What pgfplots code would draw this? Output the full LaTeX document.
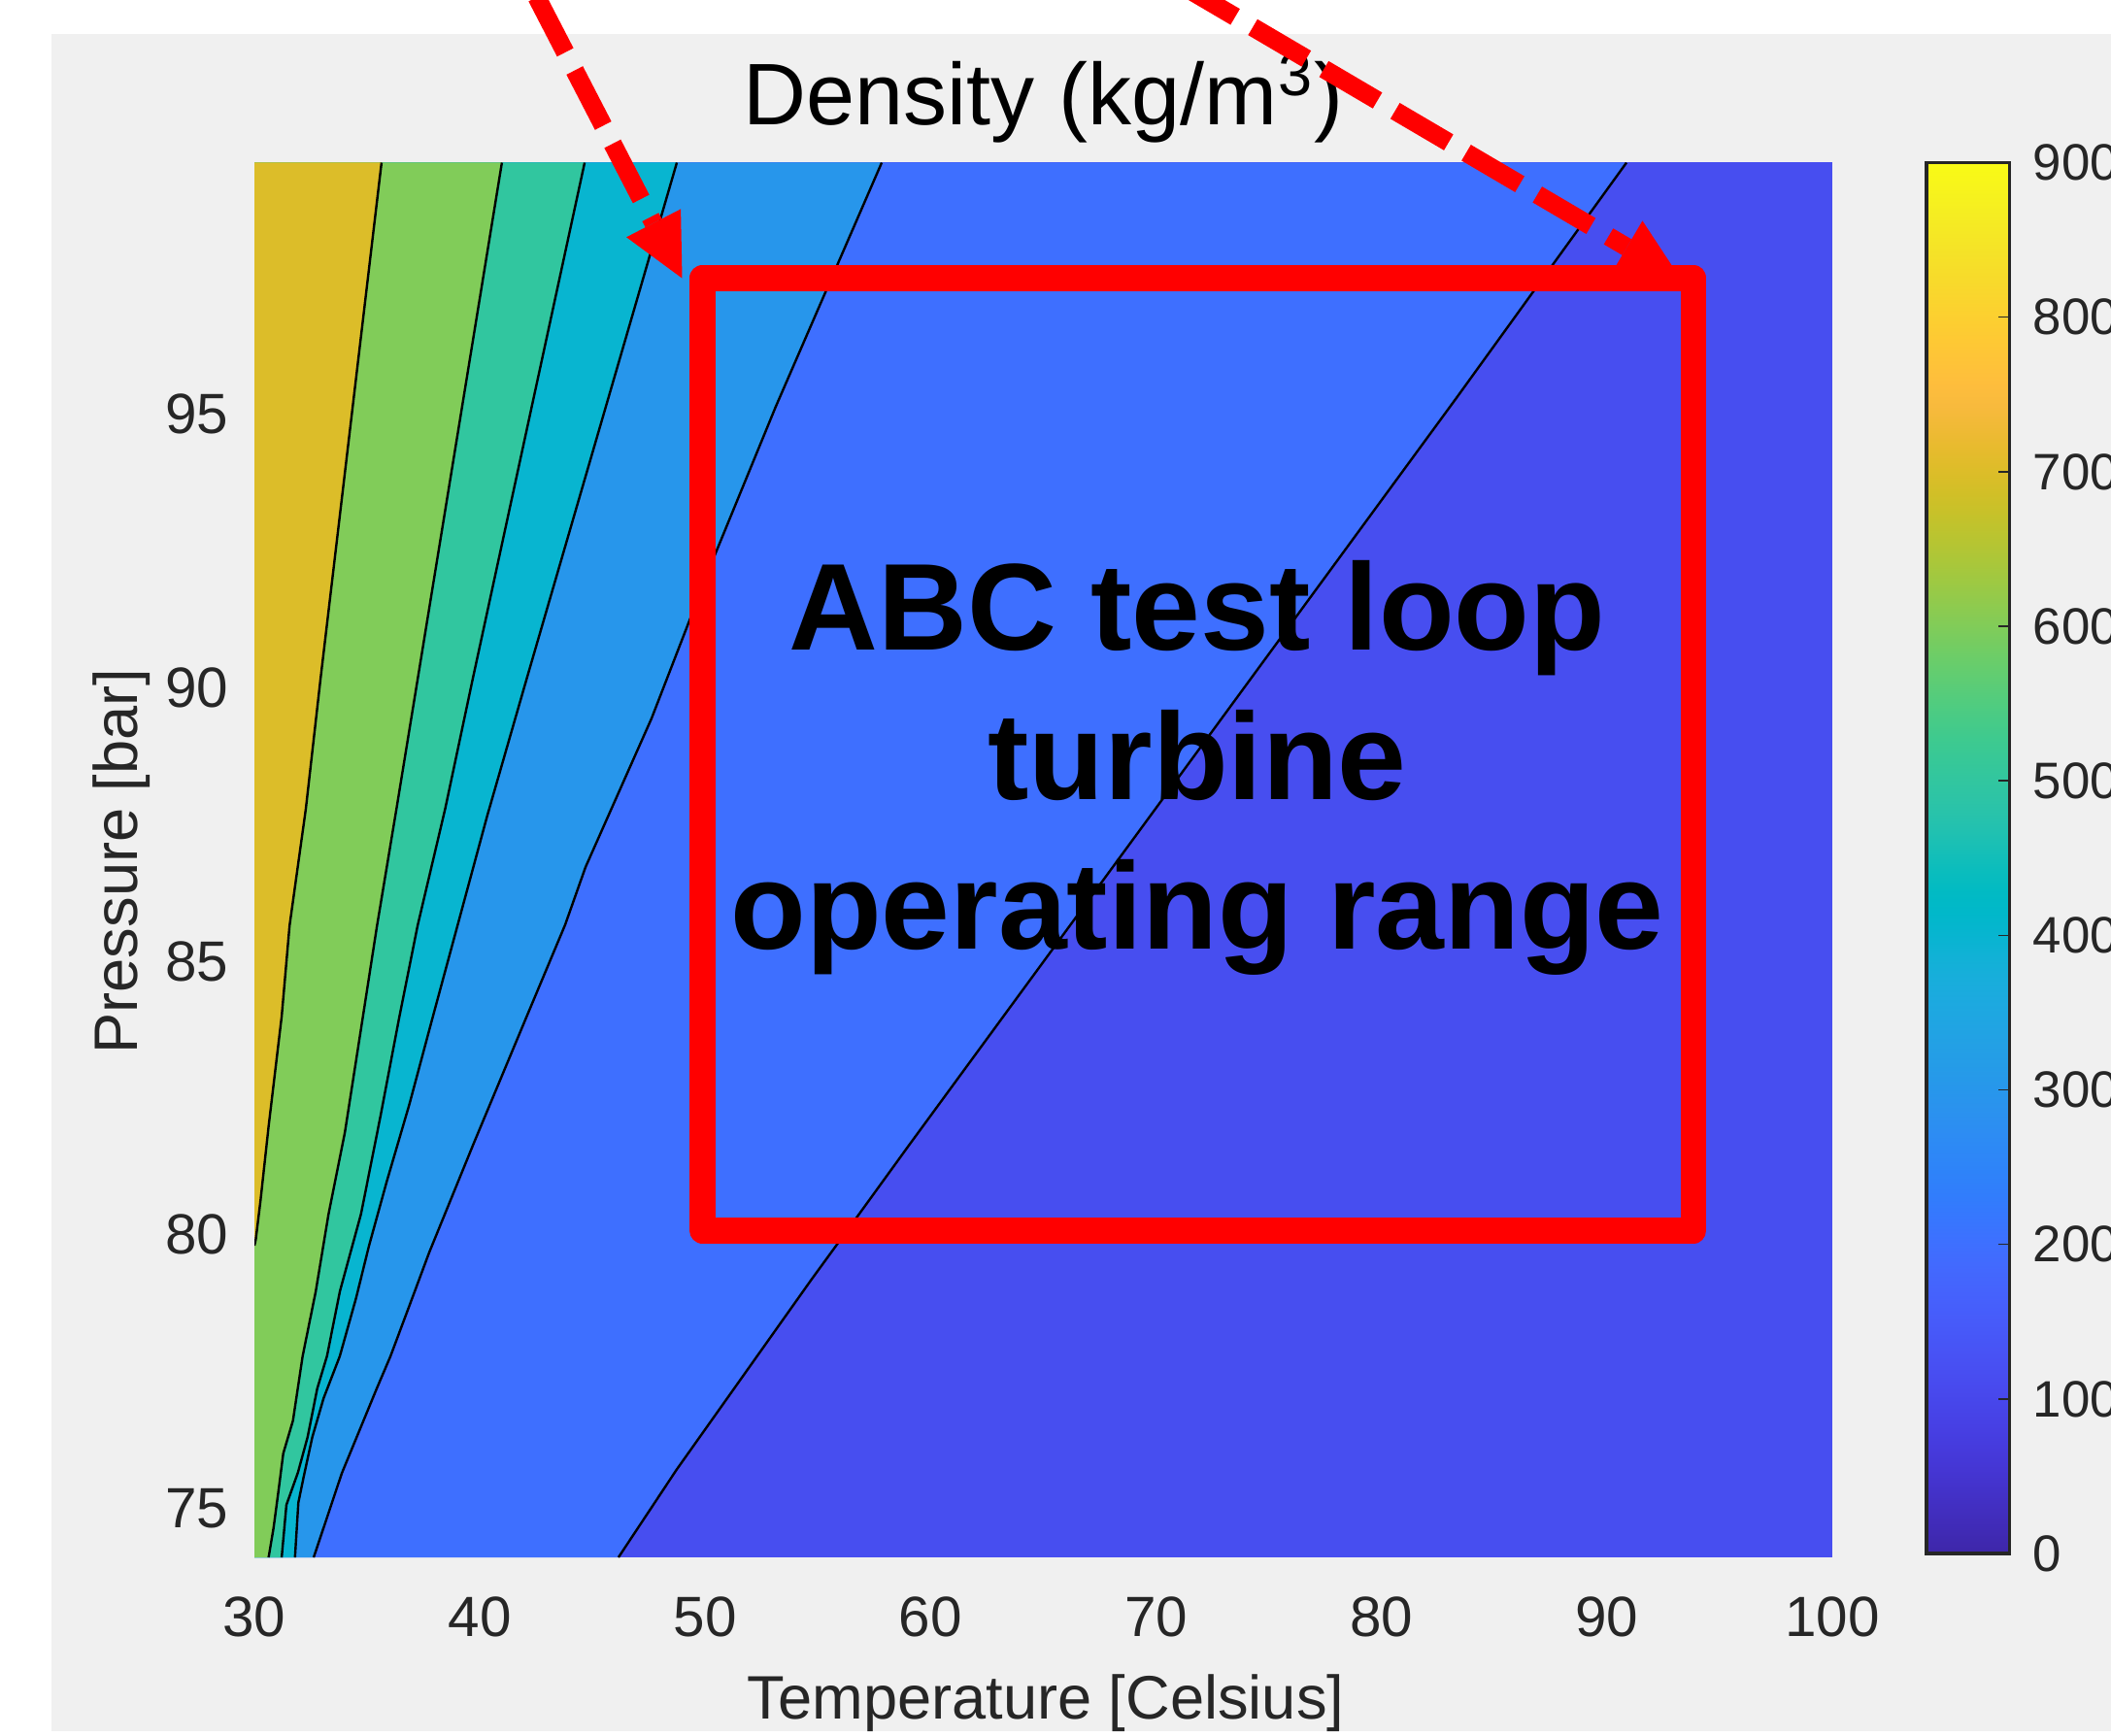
\documentclass[border=0pt]{standalone}
\usepackage{pgfplots}
\pgfplotsset{compat=1.18}
\usepackage{fontspec}
\setmainfont{Liberation Sans}
\definecolor{panelgray}{RGB}{240,240,240}
\definecolor{mgray}{RGB}{38,38,38}
\definecolor{cA}{RGB}{71,78,240}
\definecolor{cB}{RGB}{62,111,255}
\definecolor{cC}{RGB}{39,150,235}
\definecolor{cD}{RGB}{8,181,208}
\definecolor{cE}{RGB}{49,198,159}
\definecolor{cF}{RGB}{129,204,89}
\definecolor{cG}{RGB}{220,189,41}
\definecolor{annred}{RGB}{255,0,0}
% parula colour scale (64 entries) as a vertical shading for the colour bar
\pgfdeclareverticalshading{parulashade}{100bp}{
rgb(0bp)=(0.2422,0.1504,0.6603);
rgb(25bp)=(0.2422,0.1504,0.6603); rgb(25.79bp)=(0.2504,0.1650,0.7076); rgb(26.59bp)=(0.2578,0.1818,0.7511); rgb(27.38bp)=(0.2647,0.1978,0.7952);
rgb(28.17bp)=(0.2706,0.2147,0.8364); rgb(28.97bp)=(0.2751,0.2342,0.8710); rgb(29.76bp)=(0.2783,0.2559,0.8991); rgb(30.56bp)=(0.2803,0.2782,0.9221);
rgb(31.35bp)=(0.2813,0.3006,0.9414); rgb(32.14bp)=(0.2810,0.3228,0.9579); rgb(32.94bp)=(0.2795,0.3447,0.9717); rgb(33.73bp)=(0.2760,0.3667,0.9829);
rgb(34.52bp)=(0.2699,0.3892,0.9906); rgb(35.32bp)=(0.2602,0.4123,0.9952); rgb(36.11bp)=(0.2440,0.4358,0.9988); rgb(36.90bp)=(0.2206,0.4603,0.9973);
rgb(37.70bp)=(0.1963,0.4847,0.9892); rgb(38.49bp)=(0.1834,0.5074,0.9798); rgb(39.29bp)=(0.1786,0.5289,0.9682); rgb(40.08bp)=(0.1764,0.5499,0.9520);
rgb(40.87bp)=(0.1687,0.5703,0.9359); rgb(41.67bp)=(0.1540,0.5902,0.9218); rgb(42.46bp)=(0.1460,0.6091,0.9079); rgb(43.25bp)=(0.1380,0.6276,0.8973);
rgb(44.05bp)=(0.1248,0.6459,0.8883); rgb(44.84bp)=(0.1113,0.6635,0.8763); rgb(45.63bp)=(0.0952,0.6798,0.8598); rgb(46.43bp)=(0.0689,0.6948,0.8394);
rgb(47.22bp)=(0.0297,0.7082,0.8163); rgb(48.02bp)=(0.0036,0.7203,0.7917); rgb(48.81bp)=(0.0067,0.7312,0.7660); rgb(49.60bp)=(0.0433,0.7411,0.7394);
rgb(50.40bp)=(0.0964,0.7500,0.7120); rgb(51.19bp)=(0.1408,0.7584,0.6842); rgb(51.98bp)=(0.1717,0.7670,0.6554); rgb(52.78bp)=(0.1938,0.7758,0.6251);
rgb(53.57bp)=(0.2161,0.7843,0.5923); rgb(54.37bp)=(0.2470,0.7918,0.5567); rgb(55.16bp)=(0.2906,0.7973,0.5188); rgb(55.95bp)=(0.3406,0.8008,0.4789);
rgb(56.75bp)=(0.3909,0.8029,0.4354); rgb(57.54bp)=(0.4456,0.8024,0.3909); rgb(58.33bp)=(0.5044,0.7993,0.3480); rgb(59.13bp)=(0.5616,0.7942,0.3045);
rgb(59.92bp)=(0.6174,0.7876,0.2612); rgb(60.71bp)=(0.6720,0.7793,0.2227); rgb(61.51bp)=(0.7242,0.7698,0.1910); rgb(62.30bp)=(0.7738,0.7598,0.1646);
rgb(63.10bp)=(0.8203,0.7498,0.1535); rgb(63.89bp)=(0.8634,0.7406,0.1596); rgb(64.68bp)=(0.9035,0.7330,0.1774); rgb(65.48bp)=(0.9393,0.7288,0.2100);
rgb(66.27bp)=(0.9728,0.7298,0.2394); rgb(67.06bp)=(0.9956,0.7434,0.2371); rgb(67.86bp)=(0.9970,0.7659,0.2199); rgb(68.65bp)=(0.9952,0.7893,0.2028);
rgb(69.44bp)=(0.9892,0.8136,0.1885); rgb(70.24bp)=(0.9786,0.8386,0.1766); rgb(71.03bp)=(0.9676,0.8639,0.1643); rgb(71.83bp)=(0.9610,0.8890,0.1537);
rgb(72.62bp)=(0.9597,0.9135,0.1423); rgb(73.41bp)=(0.9628,0.9373,0.1265); rgb(74.21bp)=(0.9691,0.9606,0.1064); rgb(75bp)=(0.9769,0.9839,0.0805);
rgb(100bp)=(0.9769,0.9839,0.0805)}
\begin{document}
\begin{tikzpicture}
\useasboundingbox (0,0) rectangle (543.5bp,-447bp);
\clip (0,0) rectangle (543.5bp,-447bp);
\fill[white] (0,0) rectangle (543.5bp,-447bp);
\fill[panelgray] (13.25bp,-8.75bp) rectangle (550bp,-445.75bp);
\begin{axis}[
  at={(65.5bp,-401bp)}, anchor=south west, scale only axis,
  width=406.25bp, height=359.125bp,
  xmin=30, xmax=100, ymin=74.1, ymax=99.6,
  xtick={30,40,...,100}, ytick={75,80,...,95},
  axis line style={draw=none}, major tick length=0pt, tick style={draw=none},
  tick label style={font=\fontsize{14.6bp}{17bp}\selectfont, text=mgray},
  /pgf/number format/assume math mode=true,
  xticklabel style={anchor=base, inner sep=0pt, yshift=-20.25bp},
  yticklabel style={anchor=east, inner sep=0pt, xshift=-6.5bp},
]
% filled bands (level 100-200 ... 700-800)
\addplot[fill=cA, draw=none] coordinates {(30,74.1) (100,74.1) (100,99.6) (30,99.6)};
\addplot[fill=cB, draw=none] coordinates {(90.87,99.6) (83.33,95.30) (59.03,81.63) (56.71,80.31) (54.73,79.19) (48.74,75.71) (46.15,74.1) (30,74.1) (30,99.6)};
\addplot[fill=cC, draw=none] coordinates {(57.83,99.6) (53.13,95.14) (50.42,92.42) (47.62,89.44) (44.69,86.72) (43.78,85.66) (42.06,83.97) (39.74,81.68) (37.75,79.67) (37.11,78.96) (36.03,77.77) (35.43,77.19) (33.88,75.64) (32.63,74.1) (30,74.1) (30,99.6)};
\addplot[fill=cD, draw=none] coordinates {(48.74,99.6) (42.07,90.15) (40.33,87.66) (37.88,83.93) (36.88,82.39) (35.87,80.97) (35.08,79.79) (34.51,78.84) (33.79,77.78) (33.07,77.01) (32.57,76.30) (32.20,75.60) (31.95,75.10) (31.80,74.1) (30,74.1) (30,99.6)};
\addplot[fill=cE, draw=none] coordinates {(44.65,99.6) (39.68,90.15) (38.46,87.78) (37.24,85.65) (36.42,83.96) (35.59,82.16) (34.73,80.38) (33.79,78.96) (33.22,77.78) (32.79,77.19) (32.36,76.30) (31.93,75.65) (31.42,75.06) (31.21,74.1) (30,74.1) (30,99.6)};
\addplot[fill=cF, draw=none] coordinates {(40.98,99.6) (37.24,90.15) (36.30,87.78) (35.44,85.65) (34.80,83.95) (34.01,81.86) (33.29,80.38) (32.72,78.96) (32.14,77.78) (31.71,76.60) (31.28,76.00) (31.06,75.29) (30.85,74.64) (30.63,74.1) (30,74.1) (30,99.6)};
\addplot[fill=cG, draw=none] coordinates {(35.64,99.6) (32.93,90.15) (32.28,87.78) (31.56,85.65) (31.21,83.99) (30.63,81.98) (30.27,80.62) (30.06,79.91) (30,79.80) (30,99.6)};
% contour lines
\addplot[black, line width=0.6bp] coordinates {(90.87,99.6) (83.33,95.30) (59.03,81.63) (56.71,80.31) (54.73,79.19) (48.74,75.71) (46.15,74.1)};
\addplot[black, line width=0.6bp] coordinates {(57.83,99.6) (53.13,95.14) (50.42,92.42) (47.62,89.44) (44.69,86.72) (43.78,85.66) (42.06,83.97) (39.74,81.68) (37.75,79.67) (37.11,78.96) (36.03,77.77) (35.43,77.19) (33.88,75.64) (32.63,74.1)};
\addplot[black, line width=0.6bp] coordinates {(48.74,99.6) (42.07,90.15) (40.33,87.66) (37.88,83.93) (36.88,82.39) (35.87,80.97) (35.08,79.79) (34.51,78.84) (33.79,77.78) (33.07,77.01) (32.57,76.30) (32.20,75.60) (31.95,75.10) (31.80,74.1)};
\addplot[black, line width=0.6bp] coordinates {(44.65,99.6) (39.68,90.15) (38.46,87.78) (37.24,85.65) (36.42,83.96) (35.59,82.16) (34.73,80.38) (33.79,78.96) (33.22,77.78) (32.79,77.19) (32.36,76.30) (31.93,75.65) (31.42,75.06) (31.21,74.1)};
\addplot[black, line width=0.6bp] coordinates {(40.98,99.6) (37.24,90.15) (36.30,87.78) (35.44,85.65) (34.80,83.95) (34.01,81.86) (33.29,80.38) (32.72,78.96) (32.14,77.78) (31.71,76.60) (31.28,76.00) (31.06,75.29) (30.85,74.64) (30.63,74.1)};
\addplot[black, line width=0.6bp] coordinates {(35.64,99.6) (32.93,90.15) (32.28,87.78) (31.56,85.65) (31.21,83.99) (30.63,81.98) (30.27,80.62) (30.06,79.91) (30,79.80)};
\end{axis}
% colour bar (0 to 900 kg/m^3)
\begin{axis}[
  at={(496.05bp,-400bp)}, anchor=south west, scale only axis,
  width=21.325bp, height=358.125bp,
  xmin=0, xmax=1, ymin=0, ymax=900, axis on top,
  xtick=\empty, ytick={0,100,...,900}, ytick pos=right, yticklabel pos=right,
  tick align=inside, major tick length=3bp,
  tick style={draw=mgray, line width=0.35bp},
  axis line style={draw=mgray, line width=0.92bp},
  /pgf/number format/assume math mode=true,
  yticklabel style={font=\fontsize{13.2bp}{16bp}\selectfont, text=mgray, anchor=west, inner sep=0pt, xshift=5.9bp},
]
\path[shading=parulashade] (axis cs:0,0) rectangle (axis cs:1,900);
\end{axis}
\begin{scope}[x=0.25bp,y=-0.25bp]
% title and axis labels
\node[anchor=base, inner sep=0pt, font=\fontsize{22.5bp}{27bp}\selectfont] at (1074.5,128.3) {Density (kg/m\textsuperscript{3})};
\node[anchor=base, inner sep=0pt, text=mgray, font=\fontsize{15.8bp}{19bp}\selectfont] at (1077,1771) {Temperature [Celsius]};
\node[anchor=base, inner sep=0pt, rotate=90, text=mgray, font=\fontsize{15.8bp}{19bp}\selectfont] at (142,887) {Pressure [bar]};
% arrows
\draw[annred, line width=4.75bp, dash pattern=on 16bp off 5.25bp, dash phase=14.25bp] (673.1,229.8) -- (489.5,-125.4);
\fill[annred] (702.5,286.6) -- (701.1,215.3) -- (645.1,244.3) -- cycle;
\draw[annred, line width=4.75bp, dash pattern=on 16bp off 5.25bp, dash phase=10.5bp] (1675.5,254.6) -- (1158.3,-49.6);
\fill[annred] (1730.7,287) -- (1691.5,227.4) -- (1659.5,281.8) -- cycle;
% box
\draw[annred, line width=6.67bp, line join=round] (723.4,286.3) rectangle (1744,1267.3);
% annotation text
\begin{scope}[every node/.style={anchor=base, inner sep=0pt, font=\fontsize{31.8bp}{38bp}\selectfont\bfseries}]
\node at (1233,669.7) {ABC test loop};
\node at (1233,823.6) {turbine};
\node at (1233,977.5) {operating range};
\end{scope}
\end{scope}
\end{tikzpicture}
\end{document}
